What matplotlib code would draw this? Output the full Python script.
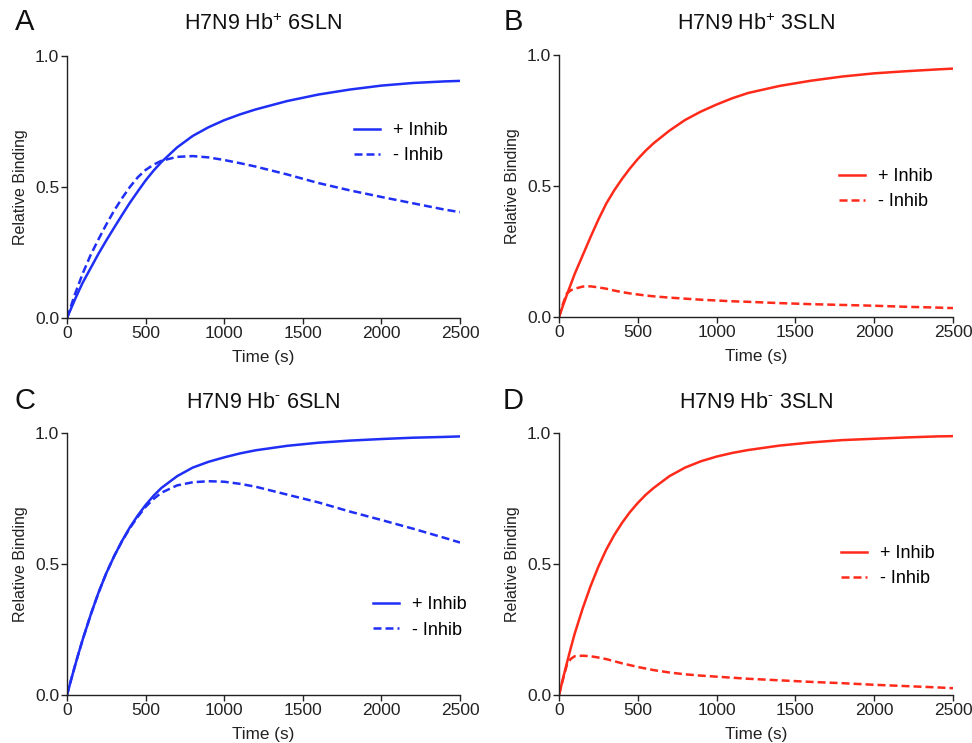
import numpy as np
import matplotlib
matplotlib.use('Agg')
import matplotlib.pyplot as plt

plt.rcParams['font.family'] = ['Liberation Sans', 'DejaVu Sans']
plt.rcParams['mathtext.fontset'] = 'custom'
plt.rcParams['mathtext.rm'] = 'Liberation Sans'
plt.rcParams['mathtext.it'] = 'Liberation Sans'

# time points (s)
time_s = [0, 25, 50, 75, 100, 150, 200, 250, 300, 350, 400, 450, 500, 550, 600,
          700, 800, 900, 1000, 1100, 1200, 1400, 1600, 1800, 2000, 2200, 2400, 2500]

# A: H7N9 Hb+ 6SLN
a_inhib = [0, .035, .07, .103, .135, .19, .245, .296, .345, .393, .44, .483, .525, .562,
           .595, .651, .695, .728, .755, .777, .796, .828, .853, .872, .887, .897, .903, .905]
a_noinhib = [0, .045, .09, .13, .17, .24, .30, .357, .41, .457, .50, .537, .565, .585,
             .60, .615, .618, .613, .603, .591, .578, .548, .515, .487, .462, .438, .414, .404]

# B: H7N9 Hb+ 3SLN
b_inhib = [0, .043, .085, .125, .165, .235, .305, .372, .433, .483, .527, .567, .603, .635,
           .663, .711, .752, .784, .811, .835, .855, .882, .902, .918, .93, .938, .945, .948]
b_noinhib = [0, .05, .09, .102, .108, .116, .117, .113, .108, .101, .095, .09, .086, .082,
             .079, .074, .07, .066, .063, .06, .058, .053, .049, .046, .043, .039, .036, .034]

# C: H7N9 Hb- 6SLN
c_inhib = [0, .056, .11, .162, .212, .305, .39, .465, .53, .588, .64, .685, .725, .76,
           .79, .835, .868, .89, .907, .922, .934, .951, .963, .971, .977, .982, .985, .987]
c_noinhib = [0, .056, .11, .162, .212, .305, .39, .465, .53, .587, .637, .68, .718, .748,
             .772, .80, .812, .816, .814, .806, .795, .765, .735, .70, .668, .635, .60, .582]

# D: H7N9 Hb- 3SLN
d_inhib = [0, .062, .122, .18, .235, .33, .415, .49, .555, .61, .657, .698, .733, .764,
           .79, .835, .868, .892, .91, .924, .935, .952, .964, .973, .978, .983, .987, .988]
d_noinhib = [0, .06, .115, .138, .148, .15, .148, .143, .137, .129, .121, .114, .107, .101,
             .095, .086, .079, .074, .07, .066, .062, .056, .05, .045, .039, .034, .029, .026]

panels = ['A', 'B', 'C', 'D']
titles = ['H7N9 Hb$^{+}$ 6SLN', 'H7N9 Hb$^{+}$ 3SLN',
          'H7N9 Hb$^{\\text{-}}$ 6SLN', 'H7N9 Hb$^{\\text{-}}$ 3SLN']
series = [(a_inhib, a_noinhib), (b_inhib, b_noinhib),
          (c_inhib, c_noinhib), (d_inhib, d_noinhib)]
colors = ['#1f2ff5', '#ff2a1a', '#1f2ff5', '#ff2a1a']

x_ticks = [0, 500, 1000, 1500, 2000, 2500]
y_ticks = [0.0, 0.5, 1.0]

W, H = 972, 743
fig = plt.figure(figsize=(W / 100, H / 100), dpi=100)

# axes boxes in pixels: left, right, top, bottom
boxes = [(67, 460, 56, 318), (559, 953, 55, 317),
         (67, 460, 433, 695), (559, 953, 433, 695)]
legend_pos = [(0.689, 0.668), (0.670, 0.487), (0.738, 0.296), (0.675, 0.492)]
letter_pos = [(25, 22), (513, 22), (25, 401), (513, 401)]
title_y = [24, 24, 402, 402]

for i in range(4):
    l, r, t, b = boxes[i]
    ax = fig.add_axes([l / W, 1 - b / H, (r - l) / W, (b - t) / H])
    inh, noinh = series[i]
    ax.plot(time_s, inh, color=colors[i], lw=1.8, label='+ Inhib')
    ax.plot(time_s, noinh, color=colors[i], lw=1.8, dashes=(3.2, 1.6), label='- Inhib')
    ax.set_xlim(0, 2500)
    ax.set_ylim(0, 1.0)
    ax.set_xticks(x_ticks)
    ax.set_yticks(y_ticks)
    ax.set_yticklabels(['0.0', '0.5', '1.0'])
    ax.spines['top'].set_visible(False)
    ax.spines['right'].set_visible(False)
    for s in ['left', 'bottom']:
        ax.spines[s].set_linewidth(1.0)
        ax.spines[s].set_color('#222222')
    ax.tick_params(direction='out', length=4, width=1, labelsize=12.5, pad=1.5,
                   colors='#222222', labelcolor='#222222')
    ax.set_xlabel('Time (s)', fontsize=12.3, labelpad=7, color='#222222')
    ax.set_ylabel('Relative Binding', fontsize=11.5, labelpad=5, color='#222222')
    ax.legend(frameon=False, loc='center left', bbox_to_anchor=legend_pos[i],
              fontsize=13, handlelength=1.45, handletextpad=0.72, labelspacing=0.45)
    fig.text((l + r) / 2 / W, 1 - title_y[i] / H, titles[i], ha='center', va='center',
             fontsize=15.5, color='#111111')
    fig.text(letter_pos[i][0] / W, 1 - letter_pos[i][1] / H, panels[i], ha='center',
             va='center', fontsize=21, color='#111111')

fig.savefig('out.png', dpi=100)
